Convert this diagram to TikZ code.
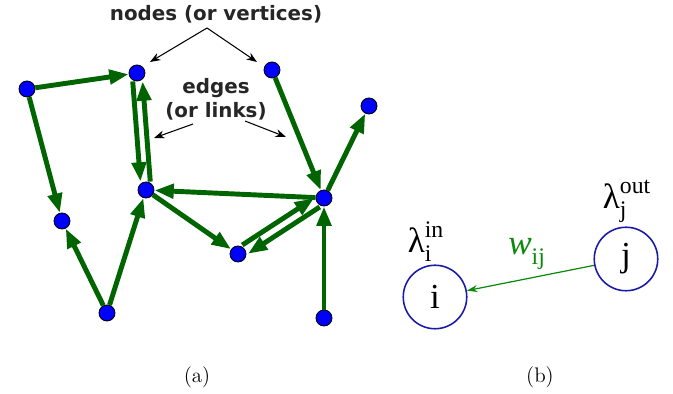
\documentclass[tikz,border=0pt]{standalone}
\usepackage{fontspec}
\usetikzlibrary{arrows.meta,positioning,calc}
\newfontfamily\labelfont{DejaVu Sans}
\newfontfamily\tnr{Liberation Serif}
\definecolor{EdgeGreen}{HTML}{006400}
\definecolor{NodeBlue}{HTML}{0000FF}
\definecolor{RingBlue}{HTML}{1A1AAA}
\definecolor{WeightGreen}{HTML}{0A8A0A}
\newcommand{\rmtxt}[1]{\hbox{\tnr #1}}
\newcommand{\bigsize}{\fontsize{20}{22}\selectfont}
\newcommand{\subsize}{\fontsize{13.5}{15}\selectfont}
\tikzset{vertex/.style={circle,draw=black,line width=0.5pt,fill=NodeBlue,
    minimum size=0.32cm,inner sep=0pt},
  edge/.style={-{Triangle[length=11pt,width=8pt]},line width=2.8pt,draw=EdgeGreen},
  note/.style={font=\labelfont\bfseries\fontsize{11.3}{13.5}\selectfont,align=center,
    text=black!85,inner sep=1pt},
  pointer/.style={-{Stealth[length=6pt,width=4.5pt]},line width=0.6pt},
  ring/.style={circle,draw=RingBlue,line width=0.9pt,minimum size=1.27cm,
    inner sep=0pt,font=\tnr\bigsize},
  wedge/.style={-{Stealth[length=6pt,width=4pt]},line width=0.7pt,draw=WeightGreen},
  caption/.style={font=\large}}

\begin{document}
\begin{tikzpicture}[x=0.02cm,y=-0.02cm]
    \useasboundingbox (0,0) rectangle (673,394);
    \node[vertex] (v1) at (27,89) {};
    \node[vertex] (v2) at (137,73) {};
    \node[vertex] (v3) at (272,70) {};
    \node[vertex] (v4) at (369,106) {};
    \node[vertex] (v5) at (146,190) {};
    \node[vertex] (v6) at (324,198) {};
    \node[vertex] (v7) at (62,221) {};
    \node[vertex] (v8) at (238,254) {};
    \node[vertex] (v9) at (107,313) {};
    \node[vertex] (v10) at (324,318) {};
    \draw[edge] (v1)--(v2);
    \draw[edge] (v1)--(v7);
    \draw[edge,transform canvas={xshift=-2.8pt}] (v2)--(v5);
    \draw[edge,transform canvas={xshift=2.8pt}] (v5)--(v2);
    \draw[edge] (v3)--(v6);
    \draw[edge] (v6)--(v4);
    \draw[edge] (v6)--(v5);
    \draw[edge] (v5)--(v8);
    \draw[edge,transform canvas={shift={(-1.6pt,2.5pt)}}] (v8)--(v6);
    \draw[edge,transform canvas={shift={(1.6pt,-2.5pt)}}] (v6)--(v8);
    \draw[edge] (v9)--(v7);
    \draw[edge] (v9)--(v5);
    \draw[edge] (v10)--(v6);
    \node[note] (nodes) at (216,14) {nodes (or vertices)};
    \coordinate (nodesfoot) at (207,28);
    \draw[pointer] (nodesfoot)--(150,62);
    \draw[pointer] (nodesfoot)--(257,62);
    \node[note] (edges) at (216,99) {edges\\(or links)};
    \draw[pointer] (193,124)--(154,138);
    \draw[pointer] (245,121)--(286,137);
    \node[ring] (ni) at (435,297) {i};
    \node[ring] (nj) at (626,259) {j};
    \draw[wedge] (nj)--(ni);
    \node[font=\bigsize,inner sep=0pt] (li) at (426,242)
      {$\rmtxt{λ}^{\rmtxt{\subsize in}}_{\rmtxt{\subsize i}}$};
    \node[font=\bigsize,inner sep=0pt] (lj) at (627,201)
      {$\rmtxt{λ}^{\rmtxt{\subsize out}}_{\rmtxt{\subsize j}}$};
    \node[text=WeightGreen,inner sep=0pt] (wij) at (527,254)
      {$\rmtxt{\bigsize\itshape w}_{\rmtxt{\subsize ij}}$};
    \node[caption] (capa) at (197,377) {(a)};
    \node[caption] (capb) at (540,377) {(b)};
  \end{tikzpicture}
\end{document}
